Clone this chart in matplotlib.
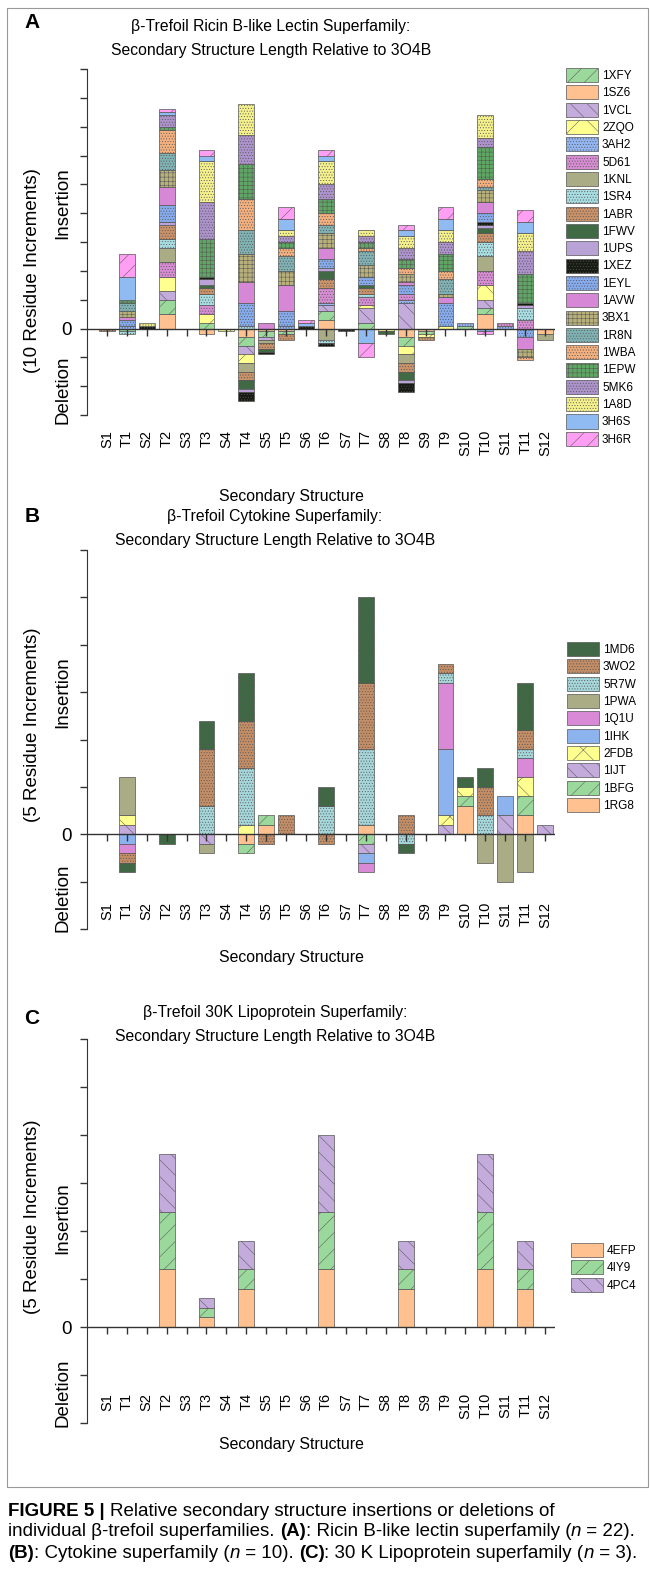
import numpy as np
import matplotlib
matplotlib.use('Agg')
import matplotlib.pyplot as plt
from matplotlib.markers import TICKDOWN
from matplotlib.patches import Rectangle

plt.rcParams['font.family'] = ['Liberation Sans', 'DejaVu Sans']
plt.rcParams['hatch.linewidth'] = 0.35

W, H = 650, 1572

structures = ['S1', 'T1', 'S2', 'T2', 'S3', 'T3', 'S4', 'T4', 'S5', 'T5', 'S6', 'T6',
              'S7', 'T7', 'S8', 'T8', 'S9', 'T9', 'S10', 'T10', 'S11', 'T11', 'S12']

# Panel A: Ricin B-like lectin superfamily (residues, stacked bottom-up in this order)
a_1SZ6 = [0, 0, 0, 5, 0, -2, 0, -3, -1, -1, 0, 3, 0, 0, 0, -3, -1, 0, 0, 5, 0, 0, -2]
a_1XFY = [0, -1, 0, 5, 0, 2, 0, -3, -2, -1, 0, 3, 0, 2, 0, -3, -1, 0, 1, 2, 0, 0, 0]
a_1VCL = [0, 0, 0, 3, 0, 0, 0, -3, -1, 0, 0, 2, 0, 5, 0, 9, 0, 0, 0, 3, 0, 0, 0]
a_2ZQO = [0, 0, 0, 5, 0, 3, -1, -3, 0, 0, 0, 0, 0, 1, -1, -3, -1, 1, 0, 5, 0, 0, 0]
a_3AH2 = [0, 1, 0, 0, 0, 0, 0, 0, 0, 1, 0, 1, 0, 0, 0, 1, 0, 0, 1, 0, 1, 0, 0]
a_5D61 = [0, 0, 0, 5, 0, 3, 0, 0, 0, 0, 0, 5, 0, 3, 0, 2, 0, 0, 0, 5, 1, 3, 0]
a_1KNL = [0, 0, 0, 5, 0, 0, 0, -3, -1, 0, 0, -4, 0, 0, 0, -3, 0, 0, 0, 5, 0, 0, -2]
a_1SR4 = [0, -1, 0, 3, 0, 4, 0, 1, 0, 0, 0, -1, 0, 1, 0, 0, 0, 0, 0, 5, 0, 4, 0]
a_1ABR = [-1, 0, 0, 5, 0, 2, 0, -3, -2, -2, 0, 3, 0, 2, 0, -3, -1, 0, 0, 3, 0, 0, 0]
a_1FWV = [0, 0, 0, 0, 0, 1, 0, -3, -1, 0, 0, 3, 0, 1, -1, -3, 0, 0, 0, 2, 0, 0, 0]
a_1UPS = [0, 0, 0, 1, 0, 2, 0, -1, 0, 0, 0, 1, 0, 0, 0, -1, 0, 0, 0, 1, 0, 1, 0]
a_1XEZ = [0, 0, 1, 0, 0, 1, 0, -3, -1, 0, 1, -1, -1, 0, 0, -3, 0, 0, 0, 1, 0, 1, 0]
a_1EYL = [0, 2, 0, 6, 0, 0, 0, 8, 0, 5, 0, 3, 0, 3, 0, 3, 0, 8, 0, 3, 0, -3, 0]
a_1AVW = [0, 1, 0, 6, 0, 0, 0, 7, 2, 9, 0, 4, 0, 0, 0, 1, 0, 2, 0, 4, 0, -4, 0]
a_3BX1 = [0, 2, 0, 6, 0, 0, 0, 10, 0, 5, 0, 5, 0, 4, 0, 3, 0, 1, 0, 4, 0, -3, 0]
a_1R8N = [0, 3, 0, 6, 0, 0, 0, 8, 0, 5, 0, 3, 0, 5, 0, 0, 0, 5, 0, 1, 0, 0, 0]
a_1WBA = [0, 0, 0, 8, 0, 0, 0, 11, 0, 3, 0, 4, 0, 1, 0, 2, 0, 3, 0, 3, 0, -1, 0]
a_1EPW = [0, 1, 0, 1, 0, 13, 0, 12, 0, 2, 0, 5, 0, 2, 0, 3, 0, 6, 0, 11, 0, 10, 0]
a_5MK6 = [0, 0, 0, 4, 0, 13, 0, 10, 0, 2, 0, 5, 0, 2, 0, 4, 0, 4, 0, 3, 0, 8, 0]
a_1A8D = [0, 0, 1, 0, 0, 14, 0, 11, 0, 2, 0, 8, 0, 2, 0, 4, 0, 4, 0, 8, 0, 6, 0]
a_3H6S = [0, 8, 0, 1, 0, 2, 0, 0, 0, 4, 1, 2, 0, -5, 0, 2, 0, 4, 0, -1, 0, 4, 0]
a_3H6R = [0, 8, 0, 1, 0, 2, 0, 0, 0, 4, 1, 2, 0, -5, 0, 2, 0, 4, 0, -1, 0, 4, 0]

a_names = ['1SZ6', '1XFY', '1VCL', '2ZQO', '3AH2', '5D61', '1KNL', '1SR4', '1ABR', '1FWV', '1UPS',
           '1XEZ', '1EYL', '1AVW', '3BX1', '1R8N', '1WBA', '1EPW', '5MK6', '1A8D', '3H6S', '3H6R']
a_values = [a_1SZ6, a_1XFY, a_1VCL, a_2ZQO, a_3AH2, a_5D61, a_1KNL, a_1SR4, a_1ABR, a_1FWV, a_1UPS,
            a_1XEZ, a_1EYL, a_1AVW, a_3BX1, a_1R8N, a_1WBA, a_1EPW, a_5MK6, a_1A8D, a_3H6S, a_3H6R]
a_legend = ['1XFY', '1SZ6', '1VCL', '2ZQO', '3AH2', '5D61', '1KNL', '1SR4', '1ABR', '1FWV', '1UPS',
            '1XEZ', '1EYL', '1AVW', '3BX1', '1R8N', '1WBA', '1EPW', '5MK6', '1A8D', '3H6S', '3H6R']

# Panel B: cytokine superfamily
b_1RG8 = [0, 0, 0, 0, 0, 0, 0, -1, 1, 0, 0, 0, 0, 1, 0, 0, 0, 0, 3, 0, 0, 2, 0]
b_1BFG = [0, 0, 0, 0, 0, 0, 0, -1, 1, 0, 0, 0, 0, -1, 0, 0, 0, 0, 1, 0, 0, 2, 0]
b_1IJT = [0, 1, 0, 0, 0, -1, 0, 0, 0, 0, 0, 0, 0, -1, 0, 0, 0, 1, 0, 0, 2, 0, 1]
b_2FDB = [0, 1, 0, 0, 0, 0, 0, 1, 0, 0, 0, 0, 0, 0, 0, 0, 0, 1, 1, 0, 0, 2, 0]
b_1IHK = [0, -1, 0, 0, 0, 0, 0, 0, 0, 0, 0, 0, 0, -1, 0, 0, 0, 7, 0, 0, 2, 0, 0]
b_1Q1U = [0, -1, 0, 0, 0, 0, 0, 0, 0, 0, 0, 0, 0, -1, 0, 0, 0, 7, 0, 0, 0, 2, 0]
b_1PWA = [0, 4, 0, 0, 0, -1, 0, 0, 0, 0, 0, 0, 0, 0, 0, 0, 0, 0, 0, -3, -5, -4, 0]
b_5R7W = [0, 0, 0, 0, 0, 3, 0, 6, 0, 0, 0, 3, 0, 8, 0, -1, 0, 1, 0, 2, 0, 1, 0]
b_3WO2 = [0, -1, 0, 0, 0, 6, 0, 5, -1, 2, 0, -1, 0, 7, 0, 2, 0, 1, 0, 3, 0, 2, 0]
b_1MD6 = [0, -1, 0, -1, 0, 3, 0, 5, 0, 0, 0, 2, 0, 9, 0, -1, 0, 0, 1, 2, 0, 5, 0]

b_names = ['1RG8', '1BFG', '1IJT', '2FDB', '1IHK', '1Q1U', '1PWA', '5R7W', '3WO2', '1MD6']
b_values = [b_1RG8, b_1BFG, b_1IJT, b_2FDB, b_1IHK, b_1Q1U, b_1PWA, b_5R7W, b_3WO2, b_1MD6]
b_legend = b_names[::-1]

# Panel C: 30K lipoprotein superfamily
c_4EFP = [0, 0, 0, 6, 0, 1, 0, 4, 0, 0, 0, 6, 0, 0, 0, 4, 0, 0, 0, 6, 0, 4, 0]
c_4IY9 = [0, 0, 0, 6, 0, 1, 0, 2, 0, 0, 0, 6, 0, 0, 0, 2, 0, 0, 0, 6, 0, 2, 0]
c_4PC4 = [0, 0, 0, 6, 0, 1, 0, 3, 0, 0, 0, 8, 0, 0, 0, 3, 0, 0, 0, 6, 0, 3, 0]

c_names = ['4EFP', '4IY9', '4PC4']
c_values = [c_4EFP, c_4IY9, c_4PC4]
c_legend = c_names

# fill colour and texture per structure
DOTS = '......'
styles = {
    '1XFY': ('#9bd89b', '//'), '1SZ6': ('#ffc18f', ''), '1VCL': ('#c3abdc', '\\\\'),
    '2ZQO': ('#ffff8f', 'x'), '3AH2': ('#93b6f2', DOTS), '5D61': ('#d78dd3', DOTS),
    '1KNL': ('#a9ac84', ''), '1SR4': ('#a8dde2', DOTS), '1ABR': ('#c99269', DOTS),
    '1FWV': ('#3f6a44', ''), '1UPS': ('#b9a3d6', ''), '1XEZ': ('#161a12', DOTS),
    '1EYL': ('#86abec', DOTS), '1AVW': ('#d687d6', ''), '3BX1': ('#b7b07a', '++++'),
    '1R8N': ('#80b2b3', DOTS), '1WBA': ('#f3b07f', DOTS), '1EPW': ('#5fa563', '++++'),
    '5MK6': ('#ad93cb', DOTS), '1A8D': ('#f4f08c', DOTS), '3H6S': ('#90baf2', ''),
    '3H6R': ('#ff9ff3', '//'),
    '1MD6': ('#3e6a43', DOTS), '3WO2': ('#c38d66', DOTS), '5R7W': ('#a5d6da', DOTS),
    '1PWA': ('#a9ac84', ''), '1Q1U': ('#d98ad6', ''), '1IHK': ('#8db3ef', ''),
    '2FDB': ('#ffff8f', 'x'), '1IJT': ('#c3abdc', '\\\\'), '1BFG': ('#9bd89b', '//'),
    '1RG8': ('#ffc18f', ''),
    '4EFP': ('#ffc18f', ''), '4IY9': ('#9bd89b', '//'), '4PC4': ('#c3abdc', '\\\\'),
}
EDGE = '#555555'


def fx(px):
    return px / W


def fy(py):
    return 1 - py / H


fig = plt.figure(figsize=(W / 100, H / 100), dpi=100)
x = np.arange(len(structures))


def stacked(ax, names, values):
    pos = np.zeros(len(x))
    neg = np.zeros(len(x))
    handles = {}
    for name, vals in zip(names, values):
        v = np.array(vals, dtype=float)
        fc, hatch = styles[name]
        bottom = np.where(v >= 0, pos, neg)
        m = v != 0
        handles[name] = ax.bar(x[m], v[m], 0.8, bottom=bottom[m], color=fc, hatch=hatch,
                               edgecolor=EDGE, linewidth=0.5, zorder=3)
        pos += np.clip(v, 0, None)
        neg += np.clip(v, None, 0)
    return handles


def setup(ax, ymin, ymax, step, pad):
    ax.set_xlim(-1, 22.5)
    ax.set_ylim(ymin, ymax)
    for s in ['top', 'right', 'bottom']:
        ax.spines[s].set_visible(False)
    ax.spines['left'].set_color('#333333')
    ticks = np.arange(ymin, ymax + step, step)
    ax.set_yticks(ticks, ['0' if t == 0 else '' for t in ticks])
    ax.tick_params(axis='y', length=5, width=1, color='#333333', pad=6, labelsize=13.5)
    ax.set_xticks(x, structures, rotation=90, fontsize=10.5)
    ax.tick_params(axis='x', length=0, pad=pad)
    ax.axhline(0, color='#333333', lw=1, zorder=5)
    ax.plot(x, np.zeros(len(x)), ls='none', marker=TICKDOWN, ms=5, mew=1,
            color='#333333', zorder=6, clip_on=False)


def ylabels(y_ins, y_del, y_inc, inc_text):
    fig.text(fx(33), fy(y_inc), inc_text, rotation=90, ha='center', va='center', fontsize=13.5)
    fig.text(fx(63), fy(y_ins), 'Insertion', rotation=90, ha='center', va='center', fontsize=13.5)
    fig.text(fx(63), fy(y_del), 'Deletion', rotation=90, ha='center', va='center', fontsize=13.5)


def legend(ax, handles, order, left, top):
    ax.legend([handles[n] for n in order], order, loc='upper left',
              bbox_to_anchor=(fx(left), fy(top)), bbox_transform=fig.transFigure,
              frameon=False, fontsize=8.5, handlelength=2.71, handleheight=1.45,
              labelspacing=0.28, handletextpad=0.34, borderpad=0, borderaxespad=0)


# Panel A
axA = fig.add_axes([fx(87), fy(415), 468 / W, (415 - 69) / H])
hA = stacked(axA, a_names, a_values)
setup(axA, -30, 90, 10, 10.8)
legend(axA, hA, a_legend, 566, 68)
ylabels(203, 390, 271, '(10 Residue Increments)')
fig.text(fx(32), fy(22), 'A', fontsize=15, fontweight='bold', ha='center', va='center')
fig.text(fx(271), fy(27), 'β-Trefoil Ricin B-like Lectin Superfamily:', fontsize=11.3, ha='center', va='center')
fig.text(fx(271), fy(50), 'Secondary Structure Length Relative to 3O4B', fontsize=11.3, ha='center', va='center')
fig.text(fx(291), fy(497), 'Secondary Structure', fontsize=11.4, ha='center', va='center')

# Panel B
axB = fig.add_axes([fx(87), fy(929), 468 / W, (929 - 550) / H])
hB = stacked(axB, b_names, b_values)
setup(axB, -10, 30, 5, -19.4)
legend(axB, hB, b_legend, 567, 642)
ylabels(692, 898, 725, '(5 Residue Increments)')
fig.text(fx(32), fy(517), 'B', fontsize=15, fontweight='bold', ha='center', va='center')
fig.text(fx(275), fy(517), 'β-Trefoil Cytokine Superfamily:', fontsize=11.3, ha='center', va='center')
fig.text(fx(275), fy(540), 'Secondary Structure Length Relative to 3O4B', fontsize=11.3, ha='center', va='center')
fig.text(fx(291), fy(957), 'Secondary Structure', fontsize=11.4, ha='center', va='center')

# Panel C
axC = fig.add_axes([fx(87), fy(1423), 468 / W, (1423 - 1039) / H])
hC = stacked(axC, c_names, c_values)
setup(axC, -10, 30, 5, -21.6)
legend(axC, hC, c_legend, 571, 1243)
ylabels(1218, 1393, 1217, '(5 Residue Increments)')
fig.text(fx(32), fy(1019), 'C', fontsize=15, fontweight='bold', ha='center', va='center')
fig.text(fx(275), fy(1013), 'β-Trefoil 30K Lipoprotein Superfamily:', fontsize=11.3, ha='center', va='center')
fig.text(fx(275), fy(1036), 'Secondary Structure Length Relative to 3O4B', fontsize=11.3, ha='center', va='center')
fig.text(fx(291), fy(1444), 'Secondary Structure', fontsize=11.4, ha='center', va='center')

# frame around the figure image
fig.add_artist(Rectangle((fx(7), fy(1487)), (648 - 7) / W, (1487 - 8) / H, transform=fig.transFigure,
                         fill=False, edgecolor='#999999', lw=0.8))

# caption with mixed weights
renderer = fig.canvas.get_renderer()
caption = [
    [('FIGURE 5 | ', 'bold', 'normal'), ('Relative secondary structure insertions or deletions of', 'normal', 'normal')],
    [('individual β-trefoil superfamilies. ', 'normal', 'normal'), ('(A)', 'bold', 'normal'),
     (': Ricin B-like lectin superfamily (', 'normal', 'normal'), ('n', 'normal', 'italic'),
     (' = 22).', 'normal', 'normal')],
    [('(B)', 'bold', 'normal'), (': Cytokine superfamily (', 'normal', 'normal'), ('n', 'normal', 'italic'),
     (' = 10). ', 'normal', 'normal'), ('(C)', 'bold', 'normal'),
     (': 30 K Lipoprotein superfamily (', 'normal', 'normal'), ('n', 'normal', 'italic'),
     (' = 3).', 'normal', 'normal')],
]
for line, ypx in zip(caption, [1511, 1532, 1553]):
    xpos = 8
    for txt, weight, style in line:
        t = fig.text(fx(xpos), fy(ypx), txt, fontsize=13.5, fontweight=weight, fontstyle=style,
                     ha='left', va='center')
        xpos += t.get_window_extent(renderer).width

fig.savefig('out.png', dpi=100)
